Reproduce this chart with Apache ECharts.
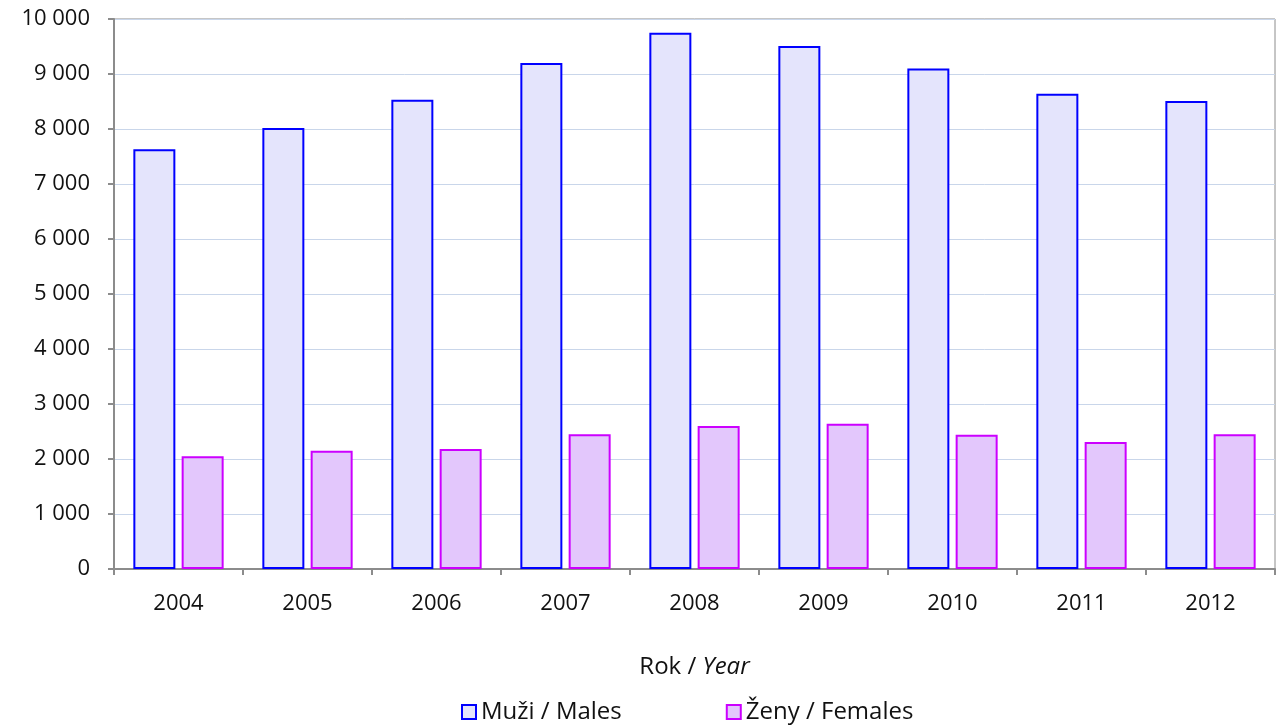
<!DOCTYPE html>
<html>
<head>
<meta charset="utf-8">
<script src="https://cdn.jsdelivr.net/npm/echarts@6/dist/echarts.min.js"></script>
<style>
html,body{margin:0;padding:0;background:#fff;}
#chart{width:1279px;height:727px;}
</style>
</head>
<body>
<div id="chart"></div>
<script>
const categories = ['2004','2005','2006','2007','2008','2009','2010','2011','2012'];
const males = [7630, 8020, 8530, 9200, 9750, 9510, 9100, 8640, 8510];
const females = [2050, 2150, 2180, 2450, 2600, 2640, 2440, 2310, 2450];
const seriesNames = ['Muži / Males', 'Ženy / Females'];
const yTicks = { min: 0, max: 10000, interval: 1000 };

const fontFamily = '"Open Sans", sans-serif';
const chart = echarts.init(document.getElementById('chart'), null, {renderer: 'canvas'});

function fmt(v) {
  const s = String(v);
  return s.length > 3 ? s.slice(0, s.length - 3) + ' ' + s.slice(-3) : s;
}

chart.setOption({
  animation: false,
  backgroundColor: '#ffffff',
  textStyle: { fontFamily: fontFamily, color: '#111' },
  grid: {
    left: 114, right: 4, top: 19, bottom: 158,
    show: true, borderColor: '#8c8c8c', borderWidth: 1
  },
  legend: {
    top: 700,
    left: 461,
    icon: 'rect',
    itemWidth: 14,
    itemHeight: 14,
    itemGap: 104,
    padding: 0,
    textStyle: { fontSize: 24, color: '#111', fontFamily: fontFamily },
    data: seriesNames
  },
  xAxis: {
    type: 'category',
    data: categories,
    name: '{n|Rok / }{i|Year}',
    nameLocation: 'middle',
    nameGap: 86,
    nameTextStyle: {
      rich: {
        n: { fontSize: 24, fontFamily: fontFamily, color: '#111' },
        i: { fontSize: 24, fontFamily: fontFamily, fontStyle: 'italic', color: '#111' }
      }
    },
    axisLine: { lineStyle: { color: '#8c8c8c', width: 2 } },
    axisTick: { show: true, length: 6, lineStyle: { color: '#8c8c8c', width: 2 } },
    axisLabel: { fontSize: 22, color: '#111', margin: 24, fontFamily: fontFamily }
  },
  yAxis: {
    type: 'value',
    min: yTicks.min, max: yTicks.max, interval: yTicks.interval,
    axisLine: { show: true, lineStyle: { color: '#8c8c8c', width: 2 } },
    axisTick: { show: true, length: 6, lineStyle: { color: '#8c8c8c', width: 2 } },
    splitLine: { lineStyle: { color: '#c9d6ea', width: 1 } },
    axisLabel: { fontSize: 22, color: '#111', margin: 24, fontFamily: fontFamily, formatter: fmt }
  },
  series: [
    {
      name: seriesNames[0], type: 'bar', data: males,
      barWidth: 42, barGap: '15%',
      itemStyle: { color: '#e4e4fc', borderColor: '#0000ff', borderWidth: 2 }
    },
    {
      name: seriesNames[1], type: 'bar', data: females,
      barWidth: 42,
      itemStyle: { color: '#e3c7fc', borderColor: '#cc00ff', borderWidth: 2 }
    }
  ]
});
</script>
</body>
</html>
